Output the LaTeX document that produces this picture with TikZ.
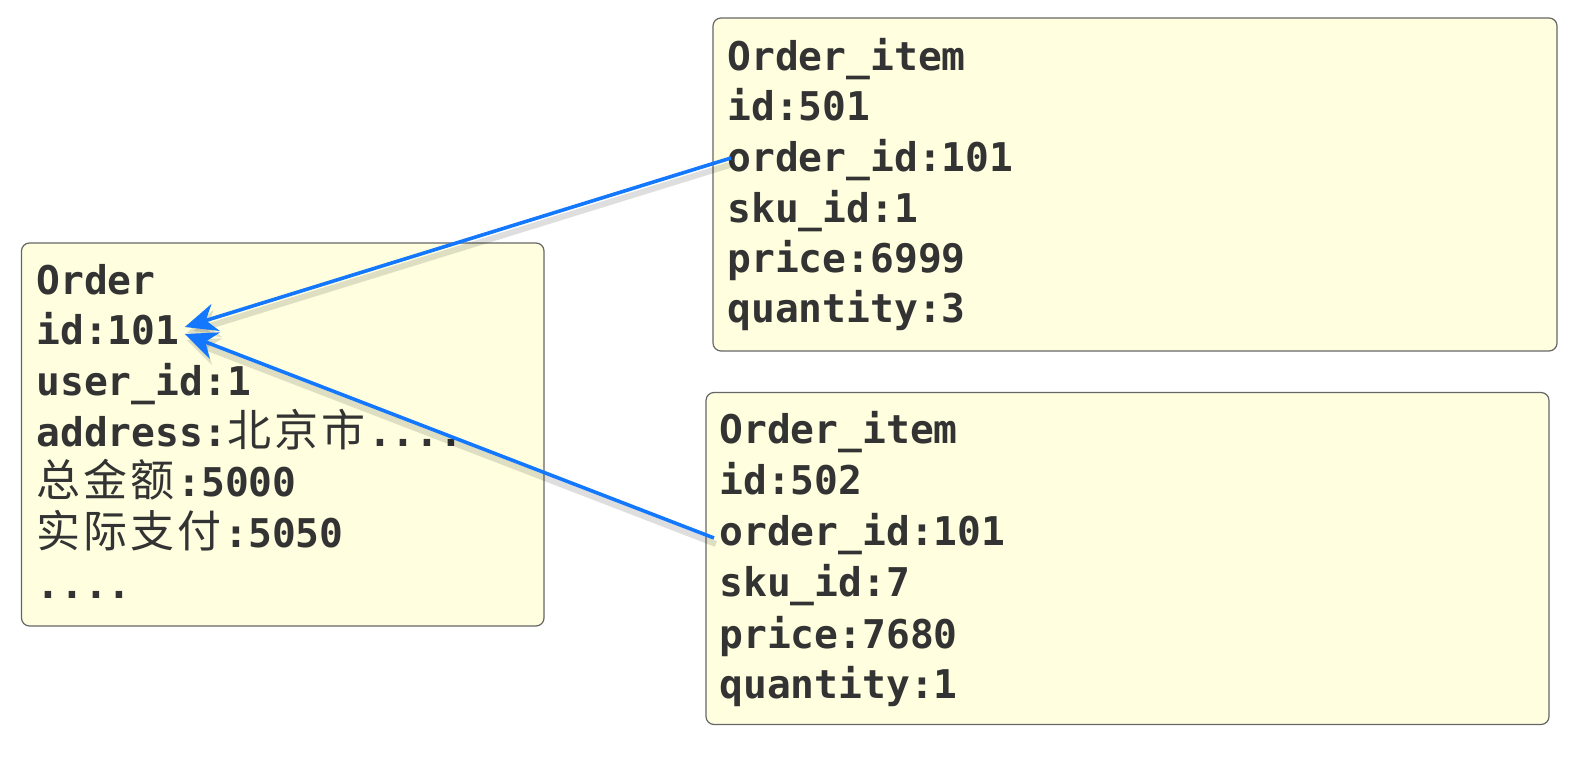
\documentclass[tikz,border=0pt]{standalone}
\usepackage{fontspec}
\setmonofont{DejaVu Sans Mono}
\newfontfamily\cjkfont{Noto Sans CJK SC}
\usetikzlibrary{arrows.meta,calc}
\definecolor{boxfill}{HTML}{FFFFDF}
\definecolor{boxline}{HTML}{666666}
\definecolor{txt}{HTML}{333333}
\definecolor{arrowblue}{HTML}{1478FF}
\newcommand{\zc}[1]{\makebox[23.5pt][l]{\fontsize{22pt}{26pt}\cjkfont\mdseries #1}}
\tikzset{
  recbox/.style={draw=boxline, line width=0.6pt, fill=boxfill, rounded corners=4pt, inner sep=0pt},
  ln/.style={anchor=base west, inner sep=0pt, text=txt, font=\fontsize{19.8pt}{24pt}\ttfamily\bfseries},
  link/.style={draw=arrowblue, line width=1.8pt, -{Stealth[length=16pt,width=14pt,inset=5pt]}},
  linkshadow/.style={draw=black, opacity=0.13, line width=3pt, -{Stealth[length=16pt,width=14pt,inset=5pt]}}
}
\begin{document}
\begin{tikzpicture}[x=0.5pt,y=-0.5pt]
\useasboundingbox (0,0) rectangle (1589,763);
% boxes
\node[recbox, minimum width=261.25pt, minimum height=191.5pt] (orderbox) at (282.75,434.5) {};
\node[recbox, minimum width=422pt, minimum height=166.5pt] (itembox1) at (1135,184.5) {};
\node[recbox, minimum width=421.5pt, minimum height=166pt] (itembox2) at (1127.5,558.5) {};
% Order
\node[ln] (ordt) at (36,295) {Order};
\node[ln] (oid) at (36,345) {id:101};
\node[ln] (ouid) at (36,396) {user\_id:1};
\node[ln] (oaddr) at (36,447) {address:\zc{北}\zc{京}\zc{市}....};
\node[ln] (otot) at (36,497) {\zc{总}\zc{金}\zc{额}:5000};
\node[ln] (opay) at (36,548) {\zc{实}\zc{际}\zc{支}\zc{付}:5050};
\node[ln] (omore) at (36,599) {....};
% Order_item 1
\node[ln] (i1t) at (727,71) {Order\_item};
\node[ln] (i1id) at (727,121) {id:501};
\node[ln] (i1oid) at (727,172) {order\_id:101};
\node[ln] (i1sku) at (727,223) {sku\_id:1};
\node[ln] (i1pr) at (727,273) {price:6999};
\node[ln] (i1q) at (727,323) {quantity:3};
% Order_item 2
\node[ln] (i2t) at (719,444) {Order\_item};
\node[ln] (i2id) at (719,495) {id:502};
\node[ln] (i2oid) at (719,546) {order\_id:101};
\node[ln] (i2sku) at (719,597) {sku\_id:7};
\node[ln] (i2pr) at (719,648) {price:7680};
\node[ln] (i2q) at (719,698) {quantity:1};
% connectors
\coordinate (s1) at ($(i1oid.base west)+(4,-14)$);
\coordinate (s2) at ($(i2oid.base west)+(-5,-8)$);
\coordinate (t1) at ($(oid.base east)+(5,-18)$);
\coordinate (t2) at ($(oid.base east)+(5,-11)$);
\draw[linkshadow] ($(s1)+(2,6)$) -- ($(t1)+(2,6)$);
\draw[linkshadow] ($(s2)+(2,6)$) -- ($(t2)+(2,6)$);
\draw[link] (s1) -- (t1);
\draw[link] (s2) -- (t2);
\end{tikzpicture}
\end{document}
